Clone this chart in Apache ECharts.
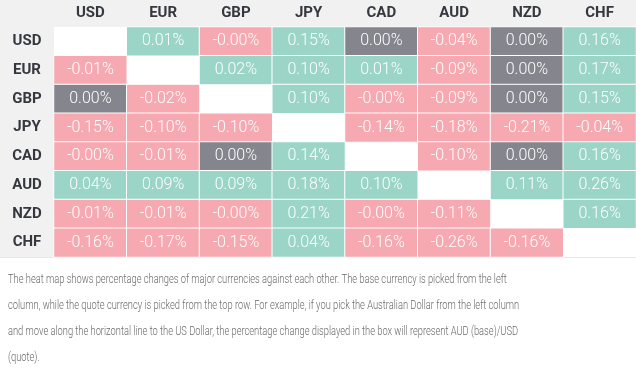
<!DOCTYPE html>
<html>
<head>
<meta charset="utf-8">
<style>
  html, body { margin: 0; padding: 0; background: #ffffff; }
  #chart { width: 636px; height: 373px; }
</style>
<script src="https://cdn.jsdelivr.net/npm/echarts@6/dist/echarts.min.js"></script>
</head>
<body>
<div id="chart"></div>
<script>
// Currencies: columns are quote currency, rows are base currency
const currencies = ['USD', 'EUR', 'GBP', 'JPY', 'CAD', 'AUD', 'NZD', 'CHF'];

// Percentage changes, one array per base currency (null = diagonal). -0.00 kept as negative zero.
const rowUSD = [null, 0.01, -0.00, 0.15, 0.00, -0.04, 0.00, 0.16];
const rowEUR = [-0.01, null, 0.02, 0.10, 0.01, -0.09, 0.00, 0.17];
const rowGBP = [0.00, -0.02, null, 0.10, -0.00, -0.09, 0.00, 0.15];
const rowJPY = [-0.15, -0.10, -0.10, null, -0.14, -0.18, -0.21, -0.04];
const rowCAD = [-0.00, -0.01, 0.00, 0.14, null, -0.10, 0.00, 0.16];
const rowAUD = [0.04, 0.09, 0.09, 0.18, 0.10, null, 0.11, 0.26];
const rowNZD = [-0.01, -0.01, -0.00, 0.21, -0.00, -0.11, null, 0.16];
const rowCHF = [-0.16, -0.17, -0.15, 0.04, -0.16, -0.26, -0.16, null];
const rows = [rowUSD, rowEUR, rowGBP, rowJPY, rowCAD, rowAUD, rowNZD, rowCHF];

const noteLines = [
  'The heat map shows percentage changes of major currencies against each other. The base currency is picked from the left',
  'column, while the quote currency is picked from the top row. For example, if you pick the Australian Dollar from the left column',
  'and move along the horizontal line to the US Dollar, the percentage change displayed in the box will represent AUD (base)/USD',
  '(quote).'
];

const GREEN = '#9bd5c8';
const PINK = '#f7a9b1';
const GREY = '#84858d';

function isNeg(v) { return v < 0 || Object.is(v, -0); }

const data = [];
rows.forEach(function (row, y) {
  row.forEach(function (v, x) {
    if (v === null) return;
    const neg = isNeg(v);
    const color = v > 0 ? GREEN : (neg ? PINK : GREY);
    data.push({
      value: [x, y, v],
      txt: (neg ? '-' : '') + Math.abs(v).toFixed(2) + '%',
      itemStyle: { color: color }
    });
  });
});

const chart = echarts.init(document.getElementById('chart'));

const noteGraphics = noteLines.map(function (line, i) {
  return {
    type: 'text',
    x: 8,
    y: 279.5 + i * 26,
    scaleX: 0.745,
    style: {
      text: line,
      fill: '#6a6a6a',
      font: '300 12.5px Roboto',
      verticalAlign: 'middle',
      align: 'left'
    }
  };
});

const option = {
  backgroundColor: '#ffffff',
  animation: false,
  graphic: [
    { type: 'rect', shape: { x: 0, y: 0, width: 636, height: 27 }, style: { fill: '#f1f1f1' }, z: -10 },
    { type: 'rect', shape: { x: 0, y: 0, width: 54, height: 257 }, style: { fill: '#f1f1f1' }, z: -10 },
    { type: 'rect', shape: { x: 0, y: 257, width: 636, height: 1 }, style: { fill: '#e8e8e8' }, z: -10 }
  ].concat(noteGraphics),
  grid: {
    left: 54, right: 0, top: 27, height: 230,
    show: true, backgroundColor: '#ffffff', borderWidth: 0
  },
  xAxis: {
    type: 'category',
    data: currencies,
    position: 'top',
    axisLine: { show: false },
    axisTick: { show: false },
    splitLine: { show: false },
    axisLabel: {
      margin: 6,
      color: '#36383f',
      fontFamily: 'Roboto',
      fontWeight: 'bold',
      fontSize: 15
    }
  },
  yAxis: {
    type: 'category',
    data: currencies,
    inverse: true,
    axisLine: { show: false },
    axisTick: { show: false },
    splitLine: { show: false },
    axisLabel: {
      margin: 27,
      align: 'center',
      color: '#36383f',
      fontFamily: 'Roboto',
      fontWeight: 'bold',
      fontSize: 15
    }
  },
  series: [{
    type: 'heatmap',
    data: data,
    itemStyle: { borderColor: '#ffffff', borderWidth: 1 },
    emphasis: { disabled: true },
    label: {
      show: true,
      formatter: function (p) { return p.data.txt; },
      color: '#ffffff',
      fontFamily: 'Roboto',
      fontWeight: 300,
      fontSize: 16
    }
  }]
};

chart.setOption(option);
</script>
</body>
</html>
